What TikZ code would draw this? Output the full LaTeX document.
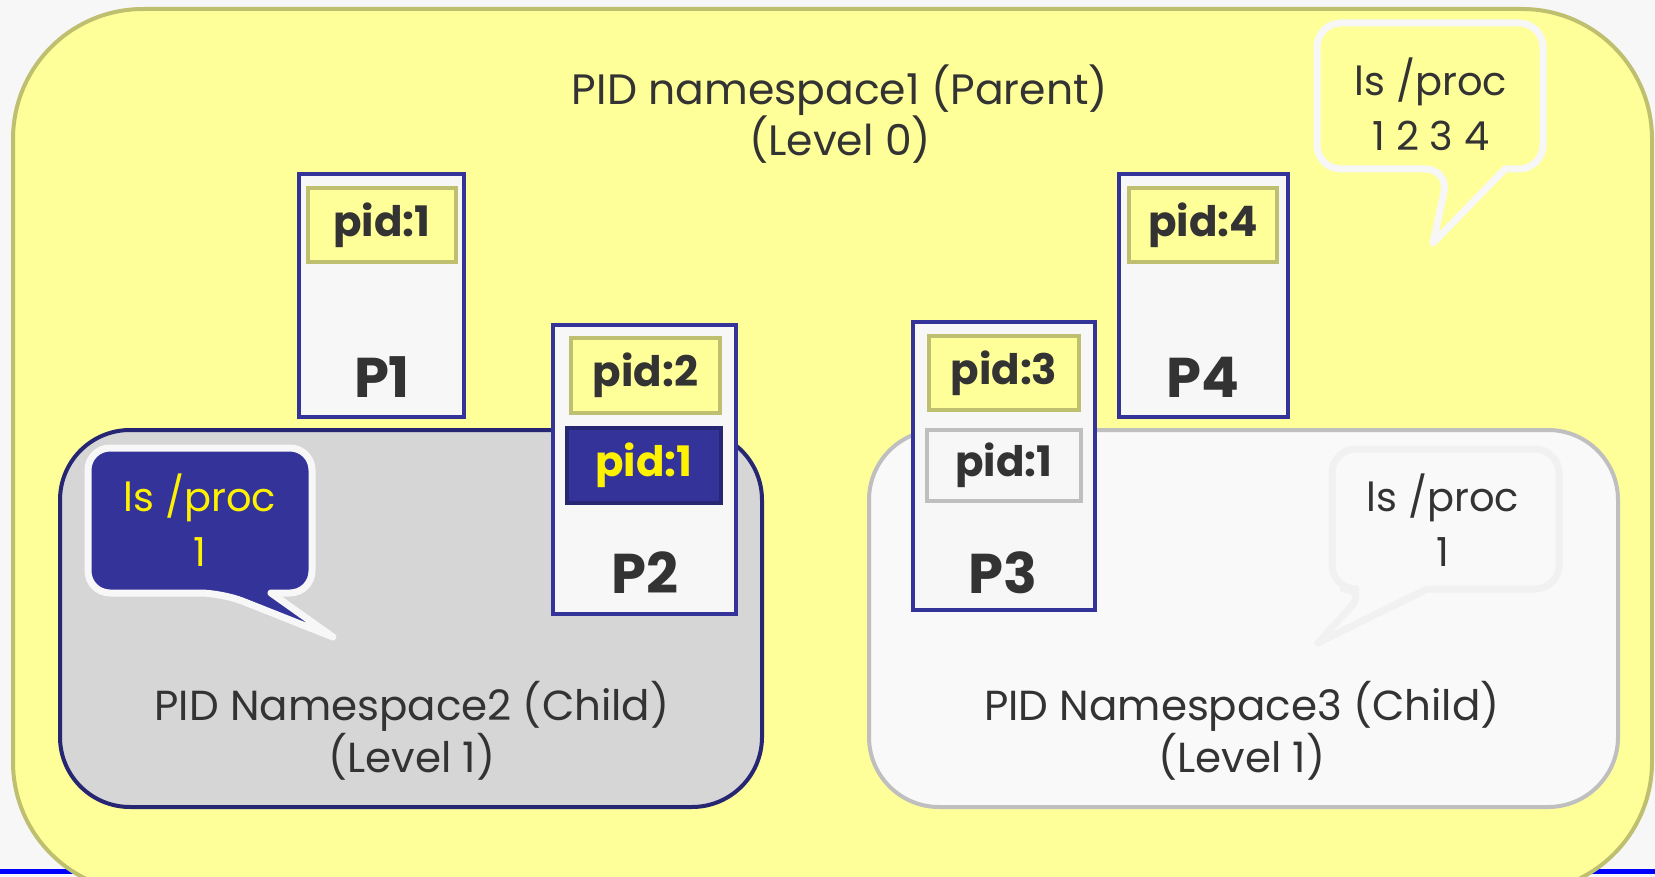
\documentclass[tikz,border=0pt]{standalone}
\usepackage{fontspec}
\setmainfont{Poppins}
\definecolor{bgc}{HTML}{F7F7F7}
\definecolor{yel}{HTML}{FFFF99}
\definecolor{olive}{HTML}{BFBF70}
\definecolor{pblue}{HTML}{333399}
\definecolor{navy}{HTML}{262673}
\definecolor{nsgray}{HTML}{D6D6D6}
\definecolor{nswhite}{HTML}{F9F9F9}
\definecolor{gborder}{HTML}{BFBFBF}
\definecolor{txt}{HTML}{333333}
\definecolor{faint}{HTML}{F1F1F1}
\tikzset{
  procbox/.style={draw=pblue, fill=bgc, line width=4pt, inner sep=0pt},
  pidy/.style={draw=olive, fill=yel, line width=4pt, inner sep=0pt, text=txt, font=\bfseries\fontsize{42}{44}\selectfont},
  pidn/.style={draw=navy, fill=pblue, line width=4pt, inner sep=0pt, text=yellow, font=\bfseries\fontsize{42}{44}\selectfont},
  pidg/.style={draw=gborder, fill=bgc, line width=4pt, inner sep=0pt, text=txt, font=\bfseries\fontsize{42}{44}\selectfont},
  plabel/.style={text=txt, font=\bfseries\fontsize{56}{58}\selectfont, inner sep=0pt},
  nstext/.style={text=txt, align=center, font=\fontsize{42}{52}\selectfont, inner sep=0pt},
  bubtext/.style={align=center, font=\fontsize{40}{55}\selectfont, inner sep=0pt},
  ns2box/.style={draw=navy, fill=nsgray, line width=4pt, rounded corners=70pt, inner sep=0pt},
  ns3box/.style={draw=gborder, fill=nswhite, line width=4pt, rounded corners=70pt, inner sep=0pt},
}
\begin{document}
\begin{tikzpicture}[x=1pt,y=-1pt]
\useasboundingbox (0,0) rectangle (1655,877);
\fill[bgc] (0,0) rectangle (1655,877);
\draw[blue, line width=5pt] (0,871) -- (1655,871);
\begin{scope}
\clip (0,0) rectangle (1655,877);
\draw[olive, fill=yel, line width=4pt, rounded corners=130pt] (13,9) rectangle (1652,892);
\end{scope}

% title
\node[nstext, font=\fontsize{42.5}{50}\selectfont] (title) at (840,114) {PID namespace1 (Parent)\\(Level 0)};

% top-right bubble
\draw[bgc, fill=yel, line width=7pt, line join=round] (1505,169) [rounded corners=24pt] -- (1543,169) -- (1543,23) -- (1317,23) -- (1317,169) -- (1449,169) [sharp corners] -- (1433,243) -- cycle;
\node[bubtext, text=txt] (b1) at (1431,104) {ls /proc\\1 2 3 4};

% namespace 2
\node[ns2box, minimum width=702pt, minimum height=377pt] (ns2) at (411,618.5) {};
\node[nstext] (ns2t) at (412,731) {PID Namespace2 (Child)\\(Level 1)};
\draw[bgc, fill=pblue, line width=7pt, line join=round] (271,593) [rounded corners=22pt] -- (312,593) -- (312,448) -- (88,448) -- (88,593) -- (222,593) [sharp corners] -- (333,637) -- cycle;
\node[bubtext, text=yellow] (b2) at (200,520) {ls /proc\\1};

% namespace 3
\node[ns3box, minimum width=749pt, minimum height=377pt] (ns3) at (1243.5,618.5) {};
\node[nstext] (ns3t) at (1242,731) {PID Namespace3 (Child)\\(Level 1)};
\draw[faint, fill=nswhite, line width=7pt, line join=round] (1427,589) [rounded corners=24pt] -- (1559,589) -- (1559,449) -- (1332,449) -- (1332,589) -- (1367,589) [sharp corners] -- (1318,643) -- cycle;
\node[bubtext, text=txt] (b3) at (1443,520) {ls /proc\\1};

% P1
\node[procbox, minimum width=165pt, minimum height=243pt] (p1) at (381.5,295.5) {};
\node[pidy, minimum width=148pt, minimum height=74pt] (p1pid) at (382,225) {pid:1};
\node[plabel] (p1l) at (382,377) {P1};

% P2
\node[procbox, minimum width=183pt, minimum height=289pt] (p2) at (644.5,469.5) {};
\node[pidy, minimum width=149pt, minimum height=75pt] (p2pid) at (645.5,375.5) {pid:2};
\node[pidn, minimum width=154pt, minimum height=75pt] (p2pidc) at (644,465.5) {pid:1};
\node[plabel] (p2l) at (645,573) {P2};

% P3
\node[procbox, minimum width=182pt, minimum height=288pt] (p3) at (1004,466) {};
\node[pidy, minimum width=150pt, minimum height=74pt] (p3pid) at (1004,373) {pid:3};
\node[pidg, minimum width=154pt, minimum height=71pt] (p3pidc) at (1004,465.5) {pid:1};
\node[plabel] (p3l) at (1003,573) {P3};

% P4
\node[procbox, minimum width=169pt, minimum height=243pt] (p4) at (1203.5,295.5) {};
\node[pidy, minimum width=148pt, minimum height=74pt] (p4pid) at (1203,225) {pid:4};
\node[plabel] (p4l) at (1203,377) {P4};
\end{tikzpicture}
\end{document}
